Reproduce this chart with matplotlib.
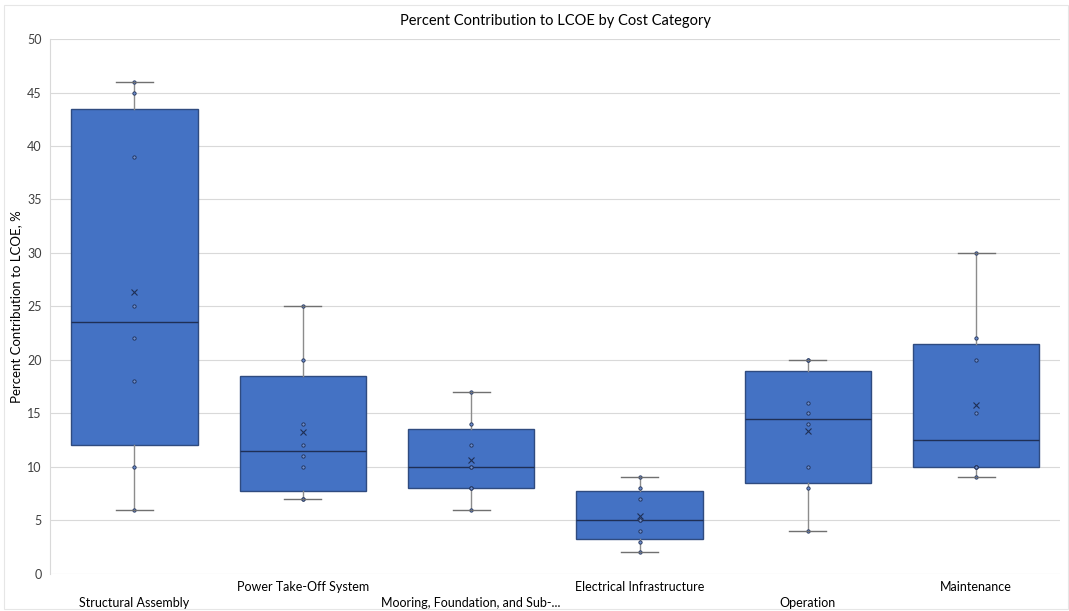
import numpy as np
import matplotlib
matplotlib.use("Agg")
import matplotlib.pyplot as plt
from matplotlib.patches import Rectangle
from matplotlib.transforms import blended_transform_factory

CATEGORIES = [
    "Structural Assembly",
    "Power Take-Off System",
    "Mooring, Foundation, and Sub-...",
    "Electrical Infrastructure",
    "Operation",
    "Maintenance",
]

# percent contribution values, one list per category
structural = [6, 10, 18, 22, 25, 39, 45, 46]
power_take_off = [7, 7, 10, 11, 12, 14, 20, 25]
mooring = [6, 8, 8, 10, 10, 12, 14, 17]
electrical = [2, 3, 4, 5, 5, 7, 8, 9]
operation = [4, 8, 10, 14, 15, 16, 20, 20]
maintenance = [9, 10, 10, 10, 15, 20, 22, 30]

SERIES = [structural, power_take_off, mooring, electrical, operation, maintenance]

BOX_FILL = "#4472C4"
BOX_EDGE = "#2F4B80"
WHISKER = "#8C8C8C"
GRID = "#D9D9D9"
TEXT = "#404040"

plt.rcParams["font.family"] = ["Lato", "DejaVu Sans"]


def quartile_exc(vals, q):
    # Excel QUARTILE.EXC style: position q*(n+1), 1-based
    v = np.sort(np.asarray(vals, dtype=float))
    pos = q * (len(v) + 1)
    lo = int(np.floor(pos))
    frac = pos - lo
    lo = min(max(lo, 1), len(v))
    hi = min(lo + 1, len(v))
    return v[lo - 1] + frac * (v[hi - 1] - v[lo - 1])


def box_stats(vals):
    v = np.asarray(vals, dtype=float)
    return {
        "med": float(np.median(v)),
        "q1": quartile_exc(v, 0.25),
        "q3": quartile_exc(v, 0.75),
        "whislo": float(v.min()),
        "whishi": float(v.max()),
        "mean": float(v.mean()),
        "fliers": [],
    }


fig, ax = plt.subplots(figsize=(10.69, 6.11), dpi=100)
fig.subplots_adjust(left=0.047, right=0.992, top=0.936, bottom=0.061)

# thin chart-area border, as in the spreadsheet export
fig.patches.append(Rectangle((0.004, 0.004), 0.995, 0.988, transform=fig.transFigure,
                             fill=False, edgecolor="#E6E6E6", linewidth=0.8))

positions = np.arange(1, len(CATEGORIES) + 1)
stats = [box_stats(s) for s in SERIES]

parts = ax.bxp(stats, positions=positions, widths=0.75, capwidths=0.22,
               patch_artist=True, showmeans=True, showfliers=False,
               boxprops=dict(facecolor=BOX_FILL, edgecolor=BOX_EDGE, linewidth=1.0),
               medianprops=dict(color="#1F2F55", linewidth=1.0),
               whiskerprops=dict(color=WHISKER, linewidth=1.0),
               capprops=dict(color="#707070", linewidth=1.0),
               meanprops=dict(marker="x", markeredgecolor="#1F2F55", markersize=5,
                              markeredgewidth=0.8),
               zorder=3)
for cap in parts["caps"]:
    cap.set_zorder(5)

# inner points
for pos, vals in zip(positions, SERIES):
    ax.plot(np.full(len(vals), pos), vals, linestyle="none", marker="o",
            markersize=2.4, markerfacecolor="#6F8FCF",
            markeredgecolor="#1F2F55", markeredgewidth=0.6, zorder=4)

ax.set_xlim(0.5, len(CATEGORIES) + 0.5)
ax.set_ylim(0, 50)
ax.set_yticks(np.arange(0, 51, 5))
ax.yaxis.grid(True, color=GRID, linewidth=0.8, zorder=0)
ax.set_axisbelow(True)
for side in ["top", "right", "bottom"]:
    ax.spines[side].set_visible(False)
ax.spines["left"].set_color(GRID)
ax.tick_params(axis="y", length=0, pad=6, labelsize=9, colors=TEXT)
ax.set_xticks([])

# staggered category labels like the original
trans = blended_transform_factory(ax.transData, ax.transAxes)
for i, (pos, name) in enumerate(zip(positions, CATEGORIES)):
    y = -0.054 if i % 2 == 0 else -0.024
    ax.text(pos, y, name, transform=trans, ha="center", va="center",
            fontsize=9, color="#000000")

ax.set_ylabel("Percent Contribution to LCOE, %", fontsize=9.5, color="#000000")
ax.yaxis.set_label_coords(-0.028, 0.5)
ax.set_title("Percent Contribution to LCOE by Cost Category", fontsize=10.5,
             color="#000000", pad=10)

fig.savefig("out.png", dpi=100)
